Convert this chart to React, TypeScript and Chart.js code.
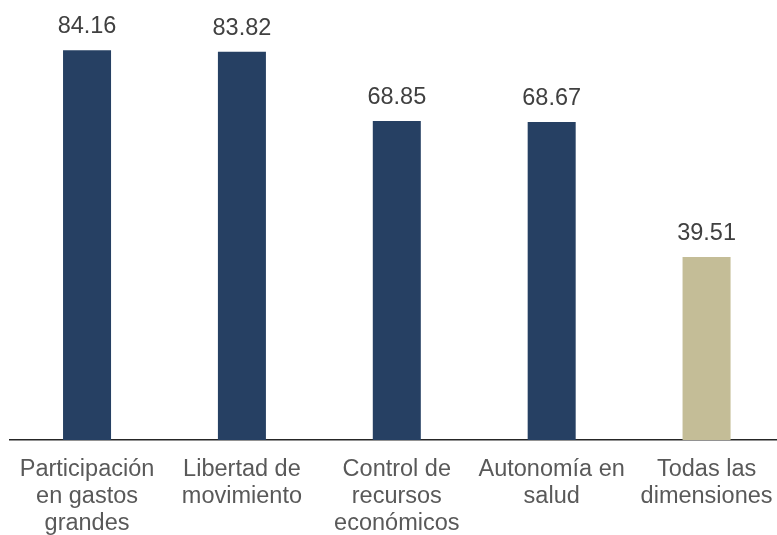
import React, { useEffect, useRef } from "react";
import { Chart, registerables } from "chart.js";

Chart.register(...registerables);

const categories: string[][] = [
  ["Participación", "en gastos", "grandes"],
  ["Libertad de", "movimiento"],
  ["Control de", "recursos", "económicos"],
  ["Autonomía en", "salud"],
  ["Todas las", "dimensiones"],
];
const values: number[] = [84.16, 83.82, 68.85, 68.67, 39.51];
const barColors: string[] = ["#264063", "#264063", "#264063", "#264063", "#C4BD97"];

const FONT = '"Liberation Sans", Arial, sans-serif';

const valueLabels = {
  id: "valueLabels",
  afterDatasetsDraw(chart: any) {
    const ctx = chart.ctx;
    const meta = chart.getDatasetMeta(0);
    ctx.save();
    ctx.font = `23.5px ${FONT}`;
    ctx.fillStyle = "#404040";
    ctx.textAlign = "center";
    ctx.textBaseline = "alphabetic";
    meta.data.forEach((bar: any, i: number) => {
      ctx.fillText(values[i].toFixed(2), bar.x, bar.y - 17);
    });
    ctx.restore();
  },
};

export default function App() {
  const ref = useRef<HTMLCanvasElement | null>(null);
  useEffect(() => {
    if (!ref.current) return;
    const chart = new Chart(ref.current, {
      type: "bar",
      data: {
        labels: categories,
        datasets: [
          {
            data: values,
            backgroundColor: barColors,
            borderWidth: 0,
            barPercentage: 0.31,
            categoryPercentage: 1,
          },
        ],
      },
      options: {
        responsive: false,
        animation: false,
        layout: { padding: { left: 9.6, right: 0, top: 0, bottom: 0 } },
        plugins: { legend: { display: false }, tooltip: { enabled: false } },
        scales: {
          x: {
            grid: { display: false, drawTicks: false },
            border: { display: true, color: "#262626", width: 1.5 },
            ticks: {
              color: "#595959",
              font: { family: FONT, size: 23.5, lineHeight: 1.15 },
              padding: 16,
              maxRotation: 0,
              autoSkip: false,
            },
            afterFit(scale: any) {
              scale.height = 95;
              scale.paddingLeft = 0;
              scale.paddingRight = 0;
            },
          },
          y: { display: false, min: 0, max: 95 },
        },
      },
      plugins: [valueLabels],
    });
    return () => chart.destroy();
  }, []);
  return (
    <div style={{ position: "fixed", left: 0, top: 0, width: 777, height: 535, overflow: "hidden", background: "#fff" }}>
      <canvas ref={ref} width={784} height={535} />
    </div>
  );
}
